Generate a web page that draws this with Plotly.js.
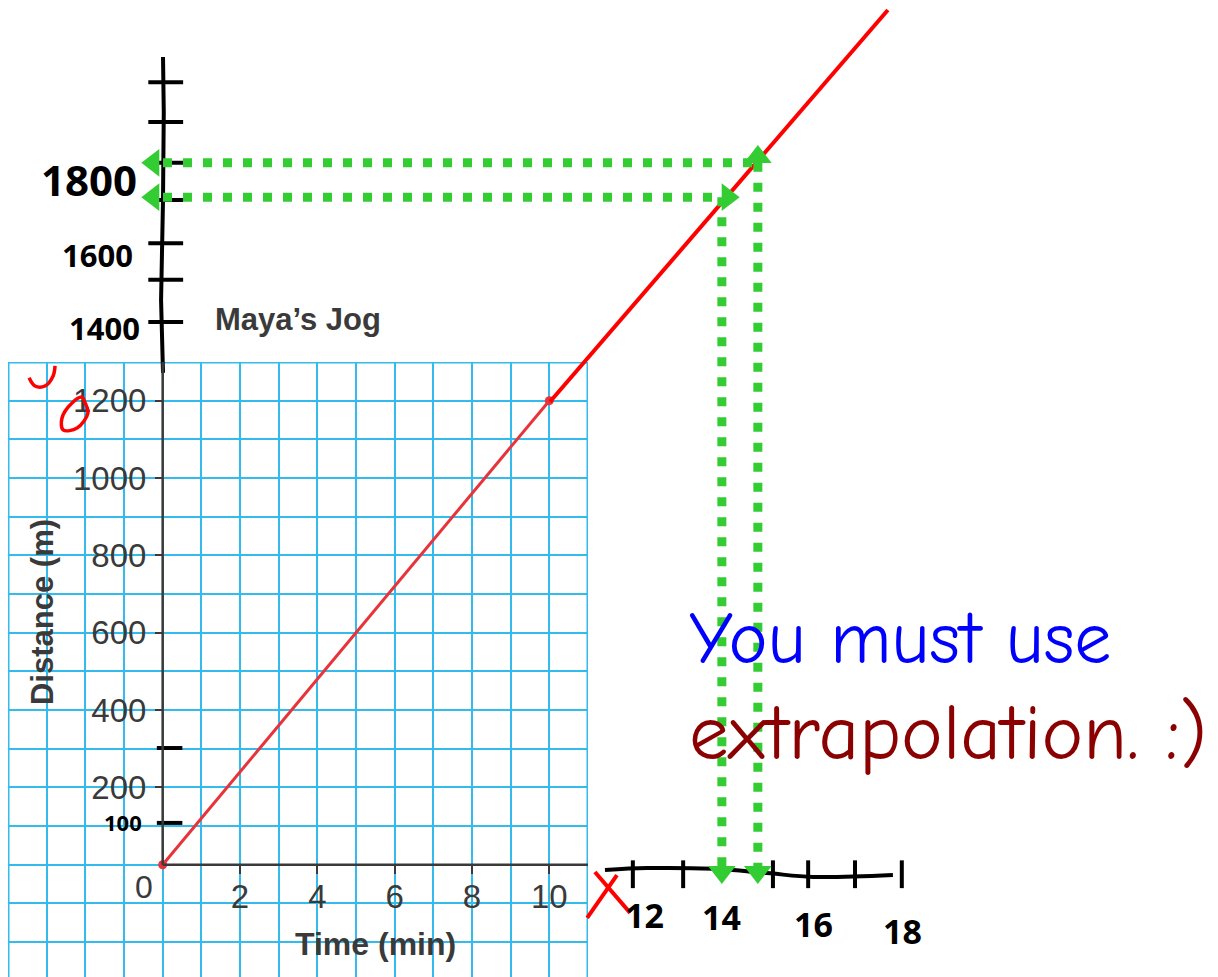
<!DOCTYPE html>
<html>
<head>
<meta charset="utf-8">
<script src="https://cdn.plot.ly/plotly-3.0.1.min.js"></script>
<style>html,body{margin:0;padding:0;background:#fff;}#chart{width:1218px;height:977px;}</style>
</head>
<body>
<div id="chart"></div>
<script>
// ---- data ----
const timeMin = [0, 10];                 // printed segment (min)
const distM = [0, 1200];                 // printed segment (m)
const extTime = [10, 18.73];             // hand-drawn extrapolation (min)
const extDist = [1200, 2215];            // hand-drawn extrapolation (m)
const readTimes = [14.44, 15.37];        // green read-off lines (min)
const readDists = [1730, 1819];          // green read-off lines (m)
const xTickVals = [2, 4, 6, 8, 10];
const xTickText = ['2', '4', '6', '8', '10'];
const yTickVals = [200, 400, 600, 800, 1000, 1200];
const yTickText = ['200', '400', '600', '800', '1000', '1200'];
const handYTickVals = [1407, 1516, 1611, 1723, 1819, 1925, 2028];
const handLowTickVals = [109, 303];
const handYLabels = ['1800', '1600', '1400', '100'];
const handYLabelPos = [1775, 1580, 1391, 111];
const handXTickVals = [12.14, 13.44, 15.76, 16.67, 17.88, 19.09];
const handXLabels = ['12', '14', '16', '18'];
const handXLabelPos = [12.45, 14.44, 16.82, 19.12];

const BLUE = '#33bbee';
const INK = '#3a3a3a';
const GREEN = '#33cc33';
const PRINT = '"Liberation Sans", Arial, sans-serif';
const HAND = '"Noto Sans", "DejaVu Sans", sans-serif';
const COMIC = '"Comic Sans MS", "Comic Neue", "Noto Sans", sans-serif';

function segs(list) {
  const xs = [], ys = [];
  list.forEach(s => { xs.push(s[0], s[2], null); ys.push(s[1], s[3], null); });
  return {x: xs, y: ys};
}

const traces = [];

// printed line on the grid subplot
traces.push({
  x: timeMin, y: distM, xaxis: 'x', yaxis: 'y',
  mode: 'lines+markers', line: {color: '#e8333a', width: 3},
  marker: {color: '#e8333a', size: 9}, cliponaxis: false, hoverinfo: 'skip'
});

// hand-drawn overlay (x2/y2 spans whole page)
traces.push({x: [0, -0.05, 0, 0.02, 0], y: [1275, 1463, 1723, 1950, 2093], xaxis: 'x2', yaxis: 'y2', mode: 'lines', line: {color: '#000', width: 4}, hoverinfo: 'skip'});
const yt = segs(handYTickVals.map(v => [-0.38, v, 0.52, v]).concat(handLowTickVals.map(v => [-0.16, v, 0.5, v])));
traces.push({x: yt.x, y: yt.y, xaxis: 'x2', yaxis: 'y2', mode: 'lines', line: {color: '#000', width: 4}, hoverinfo: 'skip'});
traces.push({x: [11.42, 12.51, 14.21, 15.61, 16.80, 18.86], y: [-13, -8, -10, -21, -31, -26], xaxis: 'x2', yaxis: 'y2', mode: 'lines', line: {color: '#000', width: 4, shape: 'spline'}, hoverinfo: 'skip'});
const xt = segs(handXTickVals.map(v => [v, 12, v, -60]));
traces.push({x: xt.x, y: xt.y, xaxis: 'x2', yaxis: 'y2', mode: 'lines', line: {color: '#000', width: 4}, hoverinfo: 'skip'});

// extrapolated red line
traces.push({x: extTime, y: extDist, xaxis: 'x2', yaxis: 'y2', mode: 'lines', line: {color: '#ff0000', width: 4}, hoverinfo: 'skip'});

// green dotted read-off lines
const gx = [], gy = [];
readTimes.forEach((t, i) => {
  gx.push(0, t, null, t, t, null);
  gy.push(readDists[i], readDists[i], null, readDists[i], -15, null);
});
traces.push({x: gx, y: gy, xaxis: 'x2', yaxis: 'y2', mode: 'lines', line: {color: GREEN, width: 9, dash: '9px,11px'}, hoverinfo: 'skip'});
const ax = [], ay = [], asym = [];
readTimes.forEach((t, i) => {
  ax.push(-0.25); ay.push(readDists[i]); asym.push('triangle-left');
  ax.push(t); ay.push(-18); asym.push('triangle-down');
});
ax.push(readTimes[1]); ay.push(readDists[1] + 15); asym.push('triangle-up');
ax.push(readTimes[0] + 0.15); ay.push(readDists[0]); asym.push('triangle-right');
traces.push({x: ax, y: ay, xaxis: 'x2', yaxis: 'y2', mode: 'markers', marker: {color: GREEN, size: 24, symbol: asym}, cliponaxis: false, hoverinfo: 'skip'});

// red hand marks
const rx = segs([[11.16, -18, 12.07, -124], [10.96, -137, 11.73, -26]]);
traces.push({x: rx.x, y: rx.y, xaxis: 'x2', yaxis: 'y2', mode: 'lines', line: {color: '#ff0000', width: 4}, hoverinfo: 'skip'});
traces.push({x: [-3.46, -3.31, -3.05, -2.84, -2.79], y: [1262, 1241, 1241, 1267, 1293], xaxis: 'x2', yaxis: 'y2', mode: 'lines', line: {color: '#ff0000', width: 3.5, shape: 'spline'}, cliponaxis: false, hoverinfo: 'skip'});
traces.push({x: [-2.09, -2.02, -1.94, -2.22, -2.58, -2.61, -2.35, -2.09], y: [1212, 1199, 1171, 1132, 1127, 1158, 1197, 1212], xaxis: 'x2', yaxis: 'y2', mode: 'lines', line: {color: '#ff0000', width: 3.5, shape: 'spline'}, hoverinfo: 'skip'});

const annotations = [];
annotations.push({xref: 'x', yref: 'y', x: -0.49, y: -57, text: '0', showarrow: false, font: {family: PRINT, size: 32, color: INK}});
annotations.push({xref: 'x2', yref: 'y2', x: 3.49, y: 1412, text: '<b>Maya’s Jog</b>', showarrow: false, font: {family: PRINT, size: 31, color: INK}});
annotations.push({xref: 'x2', yref: 'y2', x: -3.13, y: 655, text: '<b>Distance (m)</b>', textangle: -90, showarrow: false, font: {family: PRINT, size: 31, color: INK}});
annotations.push({xref: 'x2', yref: 'y2', x: 5.5, y: -205, text: '<b>Time (min)</b>', showarrow: false, font: {family: PRINT, size: 32, color: INK}});
const hSizes = [42, 31, 31, 22];
handYLabels.forEach((t, i) => annotations.push({xref: 'x2', yref: 'y2', x: [-1.91, -1.68, -1.50, -1.03][i], y: handYLabelPos[i], text: '<b>' + t + '</b>', showarrow: false, font: {family: HAND, size: hSizes[i], color: '#000'}}));
handXLabels.forEach((t, i) => annotations.push({xref: 'x2', yref: 'y2', x: handXLabelPos[i], y: [-130, -135, -153, -171][i], text: '<b>' + t + '</b>', showarrow: false, font: {family: HAND, size: 34, color: '#000'}}));
annotations.push({xref: 'x2', yref: 'y2', x: 13.55, y: 585, xanchor: 'left', text: 'You must use', showarrow: false, font: {family: COMIC, size: 74, color: '#0000ff'}});
annotations.push({xref: 'x2', yref: 'y2', x: 13.55, y: 340, xanchor: 'left', text: 'extrapolation. :)', showarrow: false, font: {family: COMIC, size: 79, color: '#8b0000'}});

const shapes = [
  {type: 'rect', xref: 'x', yref: 'y', x0: -4, x1: 11, y0: -400, y1: 1300, line: {color: BLUE, width: 3}, layer: 'below'},
  {type: 'line', xref: 'x', yref: 'y', x0: 0, x1: 11, y0: 0, y1: 0, line: {color: INK, width: 2.5}},
  {type: 'line', xref: 'x', yref: 'y', x0: 0, x1: 0, y0: 0, y1: 1300, line: {color: INK, width: 2.5}}
];

const layout = {
  width: 1218, height: 977,
  margin: {l: 0, r: 0, t: 0, b: 0, pad: 0},
  paper_bgcolor: '#ffffff', plot_bgcolor: 'rgba(0,0,0,0)',
  showlegend: false,
  xaxis: {
    domain: [8 / 1218, 588 / 1218], range: [-4, 11], anchor: 'free', position: 112 / 977,
    tickmode: 'array', tickvals: xTickVals, ticktext: xTickText,
    ticks: 'outside', ticklen: 8, tickwidth: 2, tickcolor: INK, ticklabelstandoff: -6,
    tickfont: {family: PRINT, size: 33, color: INK},
    showgrid: true, gridcolor: BLUE, gridwidth: 2,
    minor: {tick0: 0, dtick: 1, showgrid: true, gridcolor: BLUE, gridwidth: 2, ticks: ''},
    zeroline: false, showline: false, fixedrange: true
  },
  yaxis: {
    domain: [0, 615 / 977], range: [-290.2, 1300], anchor: 'free', position: 163 / 1218,
    tickmode: 'array', tickvals: yTickVals, ticktext: yTickText,
    ticks: 'outside', ticklen: 8, tickwidth: 2, tickcolor: INK, ticklabelstandoff: 2,
    tickfont: {family: PRINT, size: 33, color: INK},
    showgrid: true, gridcolor: BLUE, gridwidth: 2,
    minor: {tick0: 0, dtick: 100, showgrid: true, gridcolor: BLUE, gridwidth: 2, ticks: ''},
    zeroline: false, showline: false, fixedrange: true
  },
  xaxis2: {domain: [0, 1], range: [-4.212, 27.26], anchor: 'y2', visible: false, fixedrange: true},
  yaxis2: {domain: [0, 1], range: [-290.2, 2240.9], anchor: 'x2', visible: false, fixedrange: true},
  annotations: annotations,
  shapes: shapes
};

Plotly.newPlot('chart', traces, layout, {displayModeBar: false, staticPlot: true});
</script>
</body>
</html>
